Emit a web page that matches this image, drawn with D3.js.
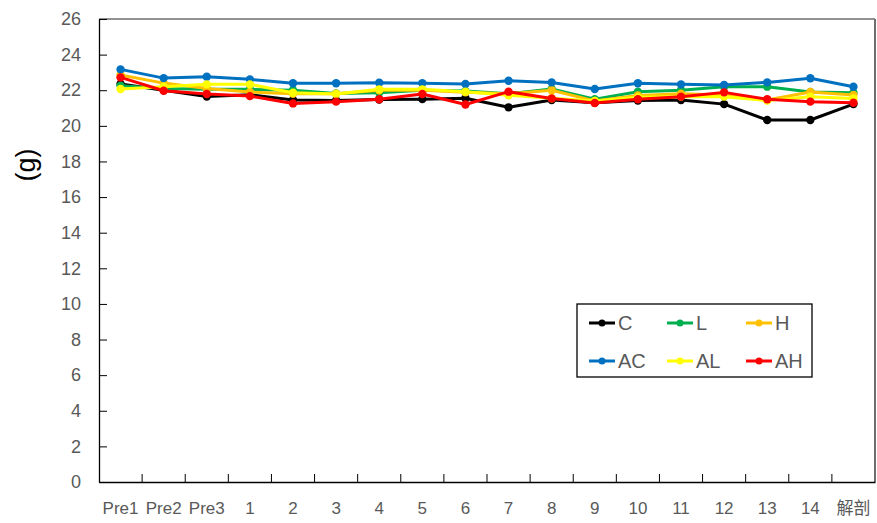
<!DOCTYPE html>
<html>
<head>
<meta charset="utf-8">
<script src="https://cdn.jsdelivr.net/npm/d3@7"></script>
<style>
  html, body { margin: 0; padding: 0; background: #fff; }
  svg { display: block; font-family: "Liberation Sans", "Noto Sans CJK SC", sans-serif; }
</style>
</head>
<body>
<svg id="chart" width="877" height="523"></svg>
<script>
// Body weight per group across the study days
const categories = ["Pre1", "Pre2", "Pre3", "1", "2", "3", "4", "5", "6", "7", "8", "9", "10", "11", "12", "13", "14", "解剖"];
const seriesNames = ["C", "L", "H", "AC", "AL", "AH"];
const valuesC  = [22.35, 22.0, 21.65, 21.75, 21.45, 21.42, 21.48, 21.5, 21.55, 21.04, 21.45, 21.3, 21.42, 21.45, 21.22, 20.33, 20.33, 21.22];
const valuesL  = [22.25, 22.1, 22.05, 22.05, 22.0, 21.82, 21.86, 22.0, 21.95, 21.8, 22.07, 21.5, 21.92, 22.0, 22.2, 22.2, 21.9, 21.86];
const valuesH  = [22.85, 22.4, 22.1, 21.9, 21.8, 21.8, 22.0, 22.0, 21.88, 21.8, 22.0, 21.4, 21.7, 21.8, 21.73, 21.45, 21.9, 21.73];
const valuesAC = [23.17, 22.68, 22.76, 22.61, 22.39, 22.39, 22.42, 22.39, 22.35, 22.53, 22.44, 22.07, 22.39, 22.33, 22.29, 22.44, 22.67, 22.2];
const valuesAL = [22.07, 22.2, 22.33, 22.33, 21.86, 21.79, 22.05, 22.05, 21.92, 21.72, 21.55, 21.4, 21.6, 21.64, 21.64, 21.42, 21.64, 21.54];
const valuesAH = [22.72, 21.97, 21.79, 21.67, 21.26, 21.36, 21.49, 21.79, 21.2, 21.92, 21.54, 21.28, 21.49, 21.64, 21.88, 21.49, 21.36, 21.3];
const seriesValues = [valuesC, valuesL, valuesH, valuesAC, valuesAL, valuesAH];
const seriesColors = ["#000000", "#00b050", "#ffc000", "#0070c0", "#ffff00", "#ff0000"];
const yTicks = [0, 2, 4, 6, 8, 10, 12, 14, 16, 18, 20, 22, 24, 26];
const yTitle = "(g)";

const svg = d3.select("#chart");
const plot = { left: 99, right: 875, top: 19, bottom: 482 };

const x = d3.scaleBand().domain(categories).range([plot.left, plot.right]).paddingInner(0).paddingOuter(0);
const y = d3.scaleLinear().domain([0, 26]).range([plot.bottom, plot.top]);

const labelColor = "#595959";

// Frame: top and right edges
svg.append("line").attr("x1", plot.left).attr("x2", plot.right)
  .attr("y1", plot.top).attr("y2", plot.top)
  .attr("stroke", "#6e6e6e").attr("stroke-width", 1.5);
svg.append("line").attr("x1", plot.right).attr("x2", plot.right)
  .attr("y1", plot.top).attr("y2", plot.bottom)
  .attr("stroke", "#6e6e6e").attr("stroke-width", 2);

// Y axis with inward ticks
const yAxis = svg.append("g").attr("transform", `translate(${plot.left},0)`)
  .call(d3.axisLeft(y).tickValues(yTicks).tickSizeInner(-8).tickSizeOuter(0).tickPadding(18));
yAxis.select(".domain").attr("stroke", "#000").attr("stroke-width", 1.3);
yAxis.selectAll(".tick line").attr("stroke", "#000").attr("stroke-width", 1);
yAxis.selectAll(".tick text").attr("fill", labelColor).attr("font-size", 18)
  .attr("font-family", "Liberation Sans, sans-serif");

// X axis with inward ticks at category boundaries
const xAxis = svg.append("g").attr("transform", `translate(0,${plot.bottom})`)
  .call(d3.axisBottom(x).tickSize(0).tickPadding(20));
xAxis.select(".domain").attr("stroke", "#000").attr("stroke-width", 1.3);
xAxis.selectAll(".tick text").attr("fill", labelColor).attr("font-size", 17)
  .attr("font-family", "Liberation Sans, Noto Sans CJK SC, sans-serif");
categories.slice(1).forEach(c => {
  svg.append("line")
    .attr("x1", x(c)).attr("x2", x(c))
    .attr("y1", plot.bottom).attr("y2", plot.bottom - 8)
    .attr("stroke", "#000").attr("stroke-width", 1);
});

// Y axis title
svg.append("text")
  .attr("transform", `translate(35,165) rotate(-90)`)
  .attr("text-anchor", "middle")
  .attr("font-size", 27)
  .attr("fill", "#000")
  .text(yTitle);

// Series lines and markers
const cx = c => x(c) + x.bandwidth() / 2;
const line = d3.line().x((d, i) => cx(categories[i])).y(d => y(d));

seriesValues.forEach((vals, s) => {
  const g = svg.append("g");
  g.append("path").datum(vals)
    .attr("d", line)
    .attr("fill", "none")
    .attr("stroke", seriesColors[s])
    .attr("stroke-width", 3)
    .attr("stroke-linejoin", "round");
  g.selectAll("circle").data(vals).join("circle")
    .attr("cx", (d, i) => cx(categories[i]))
    .attr("cy", d => y(d))
    .attr("r", 4.2)
    .attr("fill", seriesColors[s]);
});

// Legend
const legend = svg.append("g");
legend.append("rect")
  .attr("x", 577).attr("y", 304).attr("width", 235).attr("height", 73)
  .attr("fill", "#fff").attr("stroke", "#000").attr("stroke-width", 1.3);
const colX = [589, 667, 746];
const rowY = [323, 361];
seriesNames.forEach((name, i) => {
  const lx = colX[i % 3], ly = rowY[Math.floor(i / 3)];
  legend.append("line").attr("x1", lx).attr("x2", lx + 26)
    .attr("y1", ly).attr("y2", ly)
    .attr("stroke", seriesColors[i]).attr("stroke-width", 3);
  legend.append("circle").attr("cx", lx + 13).attr("cy", ly).attr("r", 3.5)
    .attr("fill", seriesColors[i]);
  legend.append("text").attr("x", lx + 29).attr("y", ly + 7)
    .attr("font-size", 20).attr("fill", labelColor)
    .text(name);
});
</script>
</body>
</html>
